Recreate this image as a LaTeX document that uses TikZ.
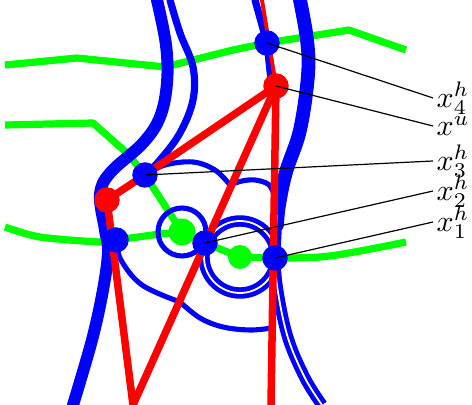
\documentclass[tikz,border=0pt]{standalone}
\begin{document}
\begin{tikzpicture}[
        x=0.3333pt, y=-0.3333pt,
        every node/.style={font=\normalsize},
        bthick/.style={draw=blue, line width=4pt, line cap=round, line join=round},
        bmid/.style={draw=blue, line width=2.4pt, line cap=round},
        bthin/.style={draw=blue, line width=1.7pt, line cap=round},
        bdouble/.style={draw=blue, line width=1.6pt, double=white, double distance=0.6pt},
        gline/.style={draw=green, line width=2.4pt, line join=round},
        rline/.style={draw=red, line width=2.5pt, line cap=round},
        bdot/.style={circle, fill=blue, minimum size=8.5pt, inner sep=0pt},
        rdot/.style={circle, fill=red, minimum size=8.5pt, inner sep=0pt},
        gdot/.style={circle, fill=green, minimum size=9pt, inner sep=0pt},
        lab/.style={anchor=west, inner sep=1pt},
        leader/.style={draw=black, line width=0.4pt}
    ]
    \useasboundingbox (0,0) rectangle (472,405);
    \coordinate (h4) at (267,43);
    \coordinate (u)  at (276,86);
    \coordinate (h3) at (145,175);
    \coordinate (rd) at (107,200);
    \coordinate (hb) at (116,240);
    \coordinate (g1) at (182,232);
    \coordinate (h2) at (205,243);
    \coordinate (g2) at (240,257);
    \coordinate (h1) at (275,258);
    \draw[gline] (5,65) -- (77,58) -- (165,67) -- (233,50) -- (h4) -- (349,30) -- (406,50);
    \draw[gline] (5,125) -- (93,123) -- (127,153) -- (h3) -- (g1);
    \draw[gline] plot[smooth, tension=0.5] coordinates {(5,227) (40,237) (100,242) (hb)} -- (160,234) -- (g1) -- (h2) -- (g2) -- (h1);
    \draw[gline] plot[smooth, tension=0.6] coordinates {(h1) (320,257) (360,251) (406,242)};
    \draw[bthick] plot[smooth, tension=0.6] coordinates {(157,0) (166,45) (167,83) (160,117) (143,143) (110,173) (100,195) (105,230) (108,252) (103,290) (92,340) (73,405)};
    \draw[bmid] plot[smooth, tension=0.6] coordinates {(170,0) (180,33) (193,67) (193,100) (180,133) (160,160) (h3)};
    \draw[bthick, line width=4.6pt] plot[smooth, tension=0.6] coordinates {(300,0) (307,40) (308,75) (300,130) (286,172) (279,205) (277,225)};
    \draw[bdouble] plot[smooth, tension=0.6] coordinates {(277,215) (275,258) (278,292) (288,338) (305,378) (322,405)};
    \draw[bmid] (255,0) -- (h4) -- (271,80);
    \draw[bthin] plot[smooth, tension=0.6] coordinates {(h3) (165,165) (193,162) (215,170) (230,185)};
    \draw[bthin] plot[smooth, tension=0.6] coordinates {(230,185) (242,181) (255,180) (268,184) (273,192)};
    \draw[bthin] plot[smooth, tension=0.6] coordinates {(hb) (121,260) (142,285) (180,302)};
    \draw[bthin] plot[smooth, tension=0.6] coordinates {(180,302) (200,318) (223,327) (250,330) (272,328)};
    \draw[bthin] (g1) circle[radius=24];
    \draw[bdouble] (g2) circle[radius=36];
    \draw[rline, line width=1.3pt] (262,0) -- (u);
    \draw[rline] (u) -- (h3) -- (rd);
    \draw[rline] (u) -- (133,405);
    \draw[rline] (u) -- (271,405);
    \draw[rline] (rd) -- (133,405);
    \node[gdot] (ng1) at (g1) {};
    \node[gdot, minimum size=8pt] (ng2) at (g2) {};
    \node[rdot] (nrd) at (rd) {};
    \node[bdot] (nhb) at (hb) {};
    \node[bdot] (nh4) at (h4) {};
    \node[rdot] (nu)  at (u)  {};
    \node[bdot] (nh3) at (h3) {};
    \node[bdot] (nh2) at (h2) {};
    \node[bdot] (nh1) at (h1) {};
    \node[lab] (lh4) at (433,98)  {$x^h_4$};
    \node[lab] (lu)  at (433,126) {$x^u$};
    \node[lab] (lh3) at (433,161) {$x^h_3$};
    \node[lab] (lh2) at (433,191) {$x^h_2$};
    \node[lab] (lh1) at (433,222) {$x^h_1$};
    \draw[leader] (nh4.center) -- (lh4.west);
    \draw[leader] (nu.center)  -- (lu.west);
    \draw[leader] (nh3.center) -- (lh3.west);
    \draw[leader] (nh2.center) -- (lh2.west);
    \draw[leader] (nh1.center) -- (lh1.west);
\end{tikzpicture}
\end{document}
